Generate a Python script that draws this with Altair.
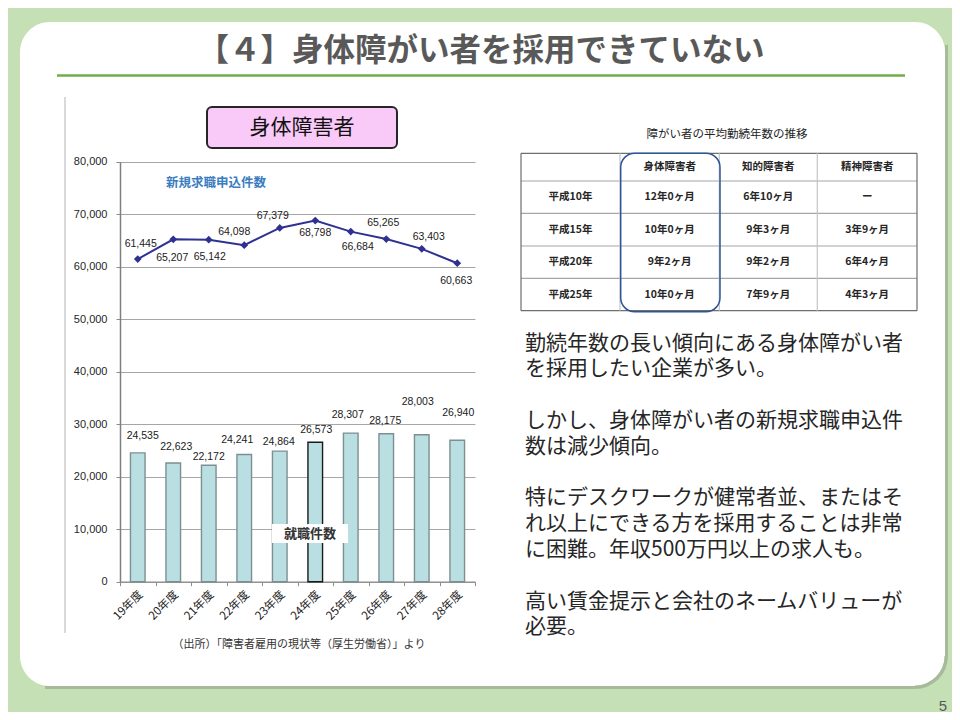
import math
import altair as alt
import pandas as pd

# ---------------- data ----------------
YEARS = ["19年度", "20年度", "21年度", "22年度", "23年度",
         "24年度", "25年度", "26年度", "27年度", "28年度"]
APPLICATIONS = [61445, 65207, 65142, 64098, 67379, 68798, 66684, 65265, 63403, 60663]
PLACEMENTS = [24535, 22623, 22172, 24241, 24864, 26573, 28307, 28175, 28003, 26940]
Y_TICKS = [0, 10000, 20000, 30000, 40000, 50000, 60000, 70000, 80000]

TITLE = "【４】身体障がい者を採用できていない"
CHART_BADGE = "身体障害者"
LINE_NAME = "新規求職申込件数"
BAR_NAME = "就職件数"
SOURCE = "（出所）「障害者雇用の現状等（厚生労働省）」より"

TABLE_TITLE = "障がい者の平均勤続年数の推移"
TABLE_HEADERS = ["", "身体障害者", "知的障害者", "精神障害者"]
TABLE_ROWS = ["平成10年", "平成15年", "平成20年", "平成25年"]
TABLE_PHYSICAL = ["12年0ヶ月", "10年0ヶ月", "9年2ヶ月", "10年0ヶ月"]
TABLE_INTELLECTUAL = ["6年10ヶ月", "9年3ヶ月", "9年2ヶ月", "7年9ヶ月"]
TABLE_MENTAL = ["ー", "3年9ヶ月", "6年4ヶ月", "4年3ヶ月"]

BODY_PARAGRAPHS = [
    ["勤続年数の長い傾向にある身体障がい者",
     "を採用したい企業が多い。"],
    ["しかし、身体障がい者の新規求職申込件",
     "数は減少傾向。"],
    ["特にデスクワークが健常者並、またはそ",
     "れ以上にできる方を採用することは非常",
     "に困難。年収500万円以上の求人も。"],
    ["高い賃金提示と会社のネームバリューが",
     "必要。"],
]
PAGE_NO = "5"

# ---------------- layout ----------------
# white slide panel (screen px): x 20..945, y 22..686 ; page margin 8
PX0, PY0, PX1, PY1 = 20, 22, 945, 686
W, H = PX1 - PX0, PY1 - PY0
PAD = {"left": PX0 - 8, "top": PY0 - 8, "right": 952 - PX1, "bottom": 712 - PY1}


def SX(v):
    return v - PX0


def SY(v):
    return v - PY0


JP = "Noto Sans CJK JP"
NUM = "Liberation Sans"

LINE_LABEL_OFFSETS = [(3, -15), (-1, 19), (1, 17), (-10, -13), (-7, -12),
                      (0, 12), (7, 15), (-3, -16), (7, -12), (-1, 18)]
BAR_LABEL_OFFSETS = [(5, -17), (3, -16), (0, -8), (-7, -14), (-1, -9),
                     (1, -12), (-3, -18), (-1, -13), (-4, -33), (1, -27)]

one = pd.DataFrame({"k": [0]})


def rect(x, y, x2, y2, **kw):
    return alt.Chart(one).mark_rect(**kw).encode(
        x=alt.value(SX(x)), y=alt.value(SY(y)), x2=alt.value(SX(x2)), y2=alt.value(SY(y2)))


def rule(x, y, x2, y2, **kw):
    return alt.Chart(one).mark_rule(**kw).encode(
        x=alt.value(SX(x)), y=alt.value(SY(y)), x2=alt.value(SX(x2)), y2=alt.value(SY(y2)))


def text(x, y, t, **kw):
    return alt.Chart(one).mark_text(text=t, **kw).encode(
        x=alt.value(SX(x)), y=alt.value(SY(y)))


# ---------------- slide decorations ----------------
SHADOW = "#a7bb9b"
shadow_r = rect(945, 45, 948, 656, fill=SHADOW)
shadow_b = rect(45, 686, 915, 689, fill=SHADOW)
shadow_c = alt.Chart(one).mark_arc(
    theta=math.pi / 2, theta2=math.pi, outerRadius=33, innerRadius=29.5, fill=SHADOW
).encode(x=alt.value(SX(915)), y=alt.value(SY(656)))
title = text(481, 52, TITLE, font=JP, fontSize=31.5, fontWeight="bold",
             color="#595959", align="center", baseline="middle")
title_rule = rule(57, 75.5, 905, 75.5, color="#70ad47", strokeWidth=2.5)
frame_line = rule(65, 97, 65, 633, color="#d9d9d9", strokeWidth=2)
badge = rect(207, 107, 397, 148, fill="#f9c9f7", stroke="#262626",
             strokeWidth=2, cornerRadius=5)
badge_text = text(302, 128, CHART_BADGE, font=JP, fontSize=21,
                  color="#111111", align="center", baseline="middle")
line_name = text(166, 183, LINE_NAME, font=JP, fontSize=12.5, fontWeight="bold",
                 color="#3a7cc0", align="left", baseline="middle")
source = text(299, 645, SOURCE, font=JP, fontSize=11, color="#333333",
              align="center", baseline="middle")

BODY_LINE_H = 25.8
body_layers = []
line_idx = 0
for para in BODY_PARAGRAPHS:
    body_layers.append(text(525, 349.5 + line_idx * BODY_LINE_H, para, font=JP,
                            fontSize=21, lineHeight=BODY_LINE_H, color="#262626",
                            align="left", baseline="alphabetic"))
    line_idx += len(para) + 1

page_no = text(943, 705.5, PAGE_NO, font=NUM, fontSize=15, color="#595959",
               align="center", baseline="middle")

# ---------------- chart ----------------
df = pd.DataFrame({"year": YEARS, "apps": APPLICATIONS, "jobs": PLACEMENTS})

x_axis = alt.Axis(offset=-(H - SY(581.7)), labelAngle=-45, labelAlign="right",
                  labelBaseline="middle", tickBand="extent", grid=False,
                  domainColor="#8c8c8c", domainWidth=1.2, tickColor="#8c8c8c",
                  tickSize=4, labelPadding=7, labelOffset=3, labelFont=JP,
                  labelFontSize=11.5, labelColor="#222222", title=None)
y_axis = alt.Axis(offset=-SX(120), values=Y_TICKS, format=",d", grid=True,
                  gridColor="#a6a6a6", gridWidth=1, domainColor="#7f7f7f",
                  domainWidth=1.5, tickColor="#8c8c8c", tickSize=4,
                  labelPadding=9, labelFont=NUM, labelFontSize=11,
                  labelColor="#262626", title=None)

x_enc = alt.X("year:N", sort=YEARS,
              scale=alt.Scale(range=[SX(120), SX(475)], paddingInner=0, paddingOuter=0),
              axis=x_axis)
y_scale = alt.Scale(domain=[0, 80000], range=[SY(581.7), SY(161.7)], nice=False)
y_jobs = alt.Y("jobs:Q", scale=y_scale, axis=y_axis)
y_apps = alt.Y("apps:Q", scale=y_scale, axis=y_axis)

base = alt.Chart(df)
bars = base.mark_bar(size=14.6, fill="#b9dfe2", strokeWidth=1.4).encode(
    x=x_enc, y=y_jobs,
    stroke=alt.condition(alt.datum.year == "24年度", alt.value("#1a1a1a"), alt.value("#7d8f90")))
bar_box = rect(272, 524, 348, 543, fill="#ffffff")
bar_name = text(310, 533.5, BAR_NAME, font=JP, fontSize=13, fontWeight="bold",
                color="#333333", align="center", baseline="middle")
line = base.mark_line(color="#2e3192", strokeWidth=2).encode(x=x_enc, y=y_apps)
pts = base.mark_point(shape="diamond", filled=True, size=60, color="#2e3192",
                      opacity=1).encode(x=x_enc, y=y_apps)

labels = []
for i, yr in enumerate(YEARS):
    dx, dy = LINE_LABEL_OFFSETS[i]
    labels.append(base.transform_filter(alt.datum.year == yr).mark_text(
        dx=dx, dy=dy, font=NUM, fontSize=10.5, color="#1a1a1a", baseline="middle"
    ).encode(x=x_enc, y=y_apps, text=alt.Text("apps:Q", format=",d")))
    dx, dy = BAR_LABEL_OFFSETS[i]
    labels.append(base.transform_filter(alt.datum.year == yr).mark_text(
        dx=dx, dy=dy, font=NUM, fontSize=10.5, color="#1a1a1a", baseline="middle"
    ).encode(x=x_enc, y=y_jobs, text=alt.Text("jobs:Q", format=",d")))

# ---------------- table ----------------
COL_EDGES = [521, 620, 719.3, 817.3, 917]
ROW_EDGES = [153.3, 181, 213.3, 246, 278.3, 310.7]

seg = []
for j, yv in enumerate(ROW_EDGES):
    outer = j in (0, len(ROW_EDGES) - 1)
    seg.append({"x": SX(COL_EDGES[0]), "x2": SX(COL_EDGES[-1]), "y": SY(yv), "y2": SY(yv),
                "c": "#6e6e6e" if outer else "#a6a6a6"})
for i, xv in enumerate(COL_EDGES):
    outer = i in (0, len(COL_EDGES) - 1)
    seg.append({"x": SX(xv), "x2": SX(xv), "y": SY(ROW_EDGES[0]), "y2": SY(ROW_EDGES[-1]),
                "c": "#6e6e6e" if outer else "#c4c4c4"})
seg_df = pd.DataFrame(seg)
table_lines = alt.Chart(seg_df).mark_rule(strokeWidth=1.2).encode(
    x=alt.X("x:Q", scale=None, axis=None), x2="x2:Q",
    y=alt.Y("y:Q", scale=None, axis=None), y2="y2:Q",
    color=alt.Color("c:N", scale=None, legend=None))

cells = []
columns = [TABLE_ROWS, TABLE_PHYSICAL, TABLE_INTELLECTUAL, TABLE_MENTAL]
for ci in range(4):
    cx = SX((COL_EDGES[ci] + COL_EDGES[ci + 1]) / 2)
    cells.append({"x": cx, "y": SY((ROW_EDGES[0] + ROW_EDGES[1]) / 2), "t": TABLE_HEADERS[ci]})
    for ri, v in enumerate(columns[ci]):
        cells.append({"x": cx, "y": SY((ROW_EDGES[ri + 1] + ROW_EDGES[ri + 2]) / 2), "t": v})
cell_df = pd.DataFrame(cells)
table_text = alt.Chart(cell_df).mark_text(
    font=JP, fontSize=10.5, fontWeight="bold", color="#262626", align="center",
    baseline="middle"
).encode(x=alt.X("x:Q", scale=None, axis=None), y=alt.Y("y:Q", scale=None, axis=None),
         text="t:N")
table_title = text(727, 135, TABLE_TITLE, font=JP, fontSize=11.5, color="#222222",
                   align="center", baseline="middle")
highlight = rect(620.7, 153.3, 720, 311.7, fill="transparent", stroke="#2f5597",
                 strokeWidth=1.5, cornerRadius=14)

chart = alt.layer(
    shadow_r, shadow_b, shadow_c, title, title_rule, frame_line, badge, badge_text,
    bars, bar_box, bar_name, line, pts, *labels, line_name, source,
    table_title, table_lines, table_text, highlight, *body_layers, page_no,
).properties(
    width=W, height=H, background="#c5e0b4",
    autosize=alt.AutoSizeParams(type="none"), padding=PAD,
).configure_view(stroke=None, fill="#ffffff", cornerRadius=30)

chart.save("out.html", embed_options={"renderer": "svg", "actions": False})
